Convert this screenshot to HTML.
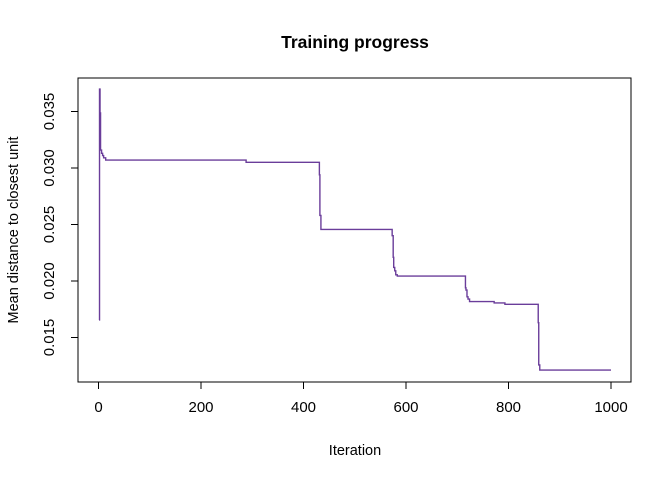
<!DOCTYPE html>
<html><head><meta charset="utf-8"><style>
body{margin:0;background:#fff}
svg text{font-family:"Liberation Sans",Arial,sans-serif;fill:#000}
</style></head><body>
<svg id="chart" width="672" height="480" viewBox="0 0 672 480">
<rect width="672" height="480" fill="#fff"/>
<text x="355" y="48" text-anchor="middle" font-size="17.5" font-weight="bold">Training progress</text>
<rect x="78" y="78" width="553" height="304" fill="none" stroke="#000" stroke-width="1"/>
<g id="xaxis"></g>
<g id="yaxis"></g>
<text x="355" y="455" text-anchor="middle" font-size="14.5">Iteration</text>
<text transform="translate(18,230) rotate(-90)" text-anchor="middle" font-size="14.5">Mean distance to closest unit</text>
<path id="series" fill="none" stroke="#6a3d9a" stroke-width="1.4"/>
</svg>
<script>
const iterations = [1,2,3,4,6,8,10,14,288,431,432,434,573,575,576,578,580,583,716,717,719,721,724,772,793,858,859,861,1000];
const values = [0.01655,0.03699,0.03487,0.03159,0.0313,0.0311,0.0309,0.0307,0.0305,0.0294,0.0258,0.02456,0.02401,0.0221,0.0212,0.0209,0.02055,0.02044,0.0194,0.0192,0.0186,0.0184,0.01818,0.01806,0.01794,0.01631,0.01257,0.01212,0.01212];
const xTicks = [0,200,400,600,800,1000];
const yTicks = [0.015,0.020,0.025,0.030,0.035];
const yTickLabels = ["0.015","0.020","0.025","0.030","0.035"];

const NS="http://www.w3.org/2000/svg";
const xs = v => 98.5 + v*0.5125;
const ys = v => 111.5 + (0.035 - v)/0.005*56.5;

const xa=document.getElementById('xaxis');
const xl=document.createElementNS(NS,'line');
xl.setAttribute('x1',xs(xTicks[0]));xl.setAttribute('x2',xs(xTicks[xTicks.length-1]));
xl.setAttribute('y1',382);xl.setAttribute('y2',382);xl.setAttribute('stroke','#000');
xa.appendChild(xl);
xTicks.forEach(t=>{
  const l=document.createElementNS(NS,'line');
  
  
  l.setAttribute('x1',xs(t));l.setAttribute('x2',xs(t));l.setAttribute('y1',382);l.setAttribute('y2',389);l.setAttribute('stroke','#000');
  xa.appendChild(l);
  const tx=document.createElementNS(NS,'text');
  
  
  tx.setAttribute('x',xs(t));tx.setAttribute('y',412);tx.setAttribute('text-anchor','middle');tx.setAttribute('font-size','15');
  tx.textContent=t;xa.appendChild(tx);
});
const ya=document.getElementById('yaxis');
const yl=document.createElementNS(NS,'line');
yl.setAttribute('x1',78);yl.setAttribute('x2',78);
yl.setAttribute('y1',ys(yTicks[0]));yl.setAttribute('y2',ys(yTicks[yTicks.length-1]));yl.setAttribute('stroke','#000');
ya.appendChild(yl);
yTicks.forEach((t,i)=>{
  const l=document.createElementNS(NS,'line');
  
  
  l.setAttribute('x1',71);l.setAttribute('x2',78);l.setAttribute('y1',ys(t));l.setAttribute('y2',ys(t));l.setAttribute('stroke','#000');
  ya.appendChild(l);
  const tx=document.createElementNS(NS,'text');
  
  
  tx.setAttribute('transform','translate(54,'+ys(t)+') rotate(-90)');tx.setAttribute('text-anchor','middle');tx.setAttribute('font-size','15');
  tx.textContent=yTickLabels[i];ya.appendChild(tx);
});
let d='';
iterations.forEach((it,i)=>{
  const x=xs(it), y=ys(values[i]);
  if(i===0) d+='M'+x+' '+y;
  else d+=' H'+x+' V'+y;
});
document.getElementById('series').setAttribute('d',d);
</script>
</body></html>
